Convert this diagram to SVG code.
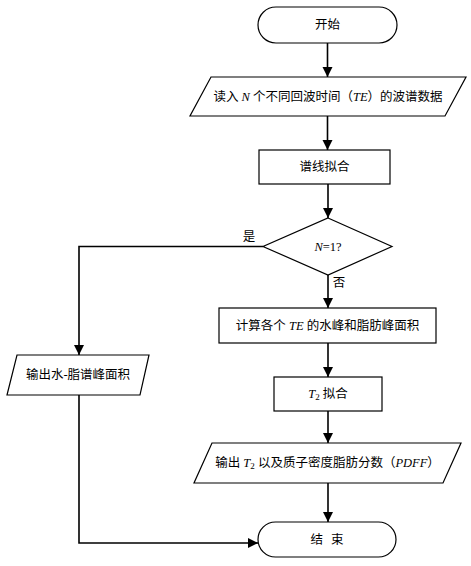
<svg xmlns="http://www.w3.org/2000/svg" width="471" height="566" viewBox="0 0 471 566">
<style>
.s{fill:#fff;stroke:#000;stroke-width:1.2}
.t{font-family:"Liberation Serif","Noto Sans CJK SC",serif;font-size:12.5px;fill:#000;text-anchor:middle;dominant-baseline:central}
.i{font-style:italic}
.c{fill:none;stroke:#000;stroke-width:1.6}
</style>
<defs>
<marker id="a" markerWidth="10" markerHeight="11" refX="10" refY="5" orient="auto" markerUnits="userSpaceOnUse">
<path d="M0,0 L10,5 L0,10 Z" fill="#000"/>
</marker>
</defs>
<g id="start"><rect class="s" x="258" y="7" width="139" height="36" rx="18"/><text class="t" x="327.5" y="25">开始</text></g>
<g id="read"><polygon class="s" points="211,77 466,77 445,116 190,116"/><text class="t" x="328" y="96.5">读入 <tspan class="i">N</tspan> 个不同回波时间（<tspan class="i">TE</tspan>）的波谱数据</text></g>
<g id="fit"><rect class="s" x="259" y="150" width="131" height="34"/><text class="t" x="324.5" y="167">谱线拟合</text></g>
<g id="decision"><polygon class="s" points="328,218 392,246.5 328,275 263,246.5"/><text class="t" x="328" y="246.5"><tspan class="i">N</tspan>=1?</text></g>
<g id="outleft"><polygon class="s" points="17,355 149,355 140,395 7,395"/><text class="t" x="78" y="375">输出水-脂谱峰面积</text></g>
<g id="calc"><rect class="s" x="219" y="308" width="217" height="35"/><text class="t" x="327.5" y="325.5">计算各个 <tspan class="i">TE</tspan> 的水峰和脂肪峰面积</text></g>
<g id="t2fit"><rect class="s" x="274" y="377" width="108" height="34"/><text class="t" x="328" y="394"><tspan class="i">T</tspan><tspan font-size="9" dy="3">2</tspan><tspan dy="-3"> 拟合</tspan></text></g>
<g id="outright"><polygon class="s" points="212,443 461,443 443,483 194,483"/><text class="t" x="327.5" y="463">输出 <tspan class="i">T</tspan><tspan font-size="9" dy="3">2</tspan><tspan dy="-3"> 以及质子密度脂肪分数（</tspan><tspan class="i">PDFF</tspan>）</text></g>
<g id="end"><rect class="s" x="258" y="522" width="138" height="35" rx="17.5"/><text class="t" x="327" y="539.5" word-spacing="5">结 束</text></g>
<g id="connectors">
<line class="c" x1="327.5" y1="43" x2="327.5" y2="77" marker-end="url(#a)"/>
<line class="c" x1="327.5" y1="116" x2="327.5" y2="150" marker-end="url(#a)"/>
<line class="c" x1="328" y1="184" x2="328" y2="218" marker-end="url(#a)"/>
<polyline class="c" points="263,246.5 79,246.5 79,355" marker-end="url(#a)"/>
<line class="c" x1="328" y1="275" x2="328" y2="308" marker-end="url(#a)"/>
<line class="c" x1="328" y1="343" x2="328" y2="377" marker-end="url(#a)"/>
<line class="c" x1="328" y1="411" x2="328" y2="443" marker-end="url(#a)"/>
<line class="c" x1="328" y1="483" x2="328" y2="522" marker-end="url(#a)"/>
<polyline class="c" points="79,395 79,543 258,543" marker-end="url(#a)"/>
<text class="t" x="249" y="237">是</text>
<text class="t" x="339" y="283">否</text>
</g>
</svg>
